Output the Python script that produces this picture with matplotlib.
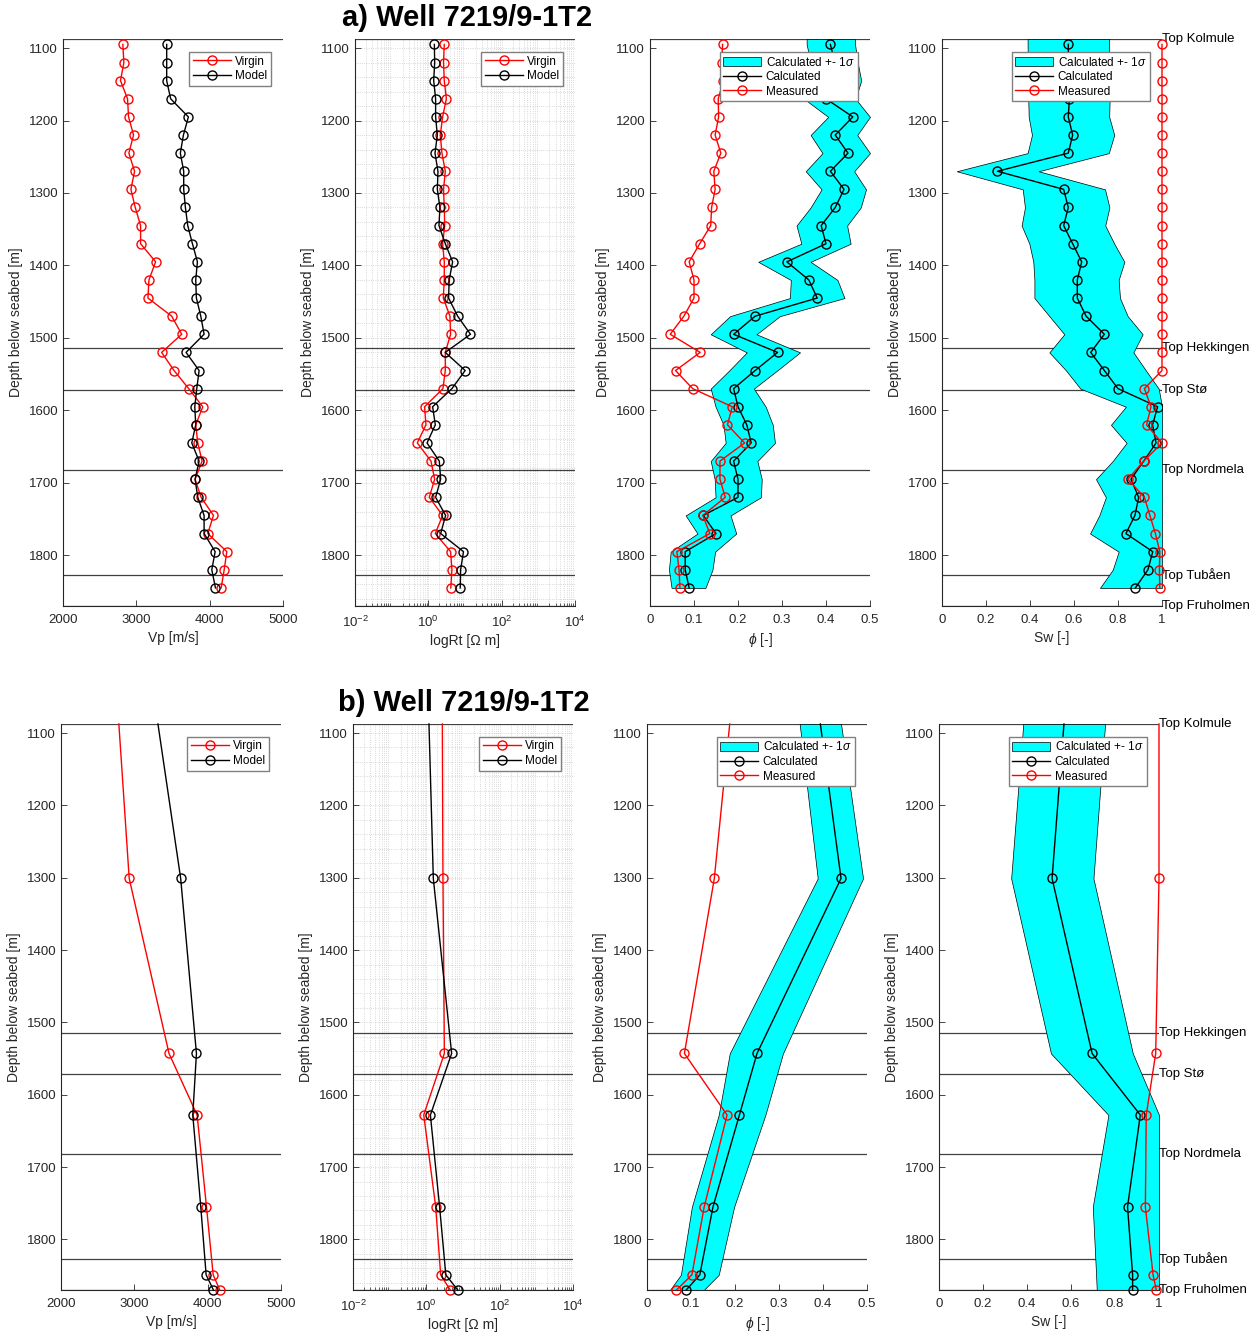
import numpy as np
import matplotlib
matplotlib.use('Agg')
import matplotlib.pyplot as plt
from matplotlib.ticker import MultipleLocator, FuncFormatter, LogLocator, NullFormatter

plt.rcParams['font.family'] = ['Liberation Sans', 'DejaVu Sans']
plt.rcParams['mathtext.fontset'] = 'custom'
plt.rcParams['mathtext.rm'] = 'Liberation Sans'
plt.rcParams['mathtext.it'] = 'Liberation Sans:italic'

# formation tops [m]
tops = ['Top Kolmule', 'Top Hekkingen', 'Top Stø', 'Top Nordmela', 'Top Tubåen', 'Top Fruholmen']
top_depth = [1087.5, 1514, 1572, 1682, 1827, 1870]

# ---- a) dense sampling ----
depth_a = [1095, 1120, 1145, 1170, 1195, 1220, 1245, 1270, 1295, 1320, 1345, 1370, 1395, 1420,
           1445, 1470, 1495, 1520, 1545, 1570, 1595, 1620, 1645, 1670, 1695, 1720, 1745, 1770,
           1795, 1820, 1845]
vp_virgin_a = [2816, 2830, 2784, 2880, 2894, 2962, 2898, 2976, 2926, 2985, 3058, 3058, 3263, 3172,
               3158, 3482, 3619, 3345, 3514, 3714, 3906, 3810, 3838, 3897, 3801, 3883, 4052, 3974,
               4234, 4198, 4157]
vp_model_a = [3414, 3414, 3414, 3468, 3710, 3642, 3600, 3646, 3646, 3669, 3701, 3765, 3833, 3810,
              3819, 3879, 3924, 3678, 3856, 3824, 3797, 3810, 3756, 3856, 3801, 3838, 3924, 3924,
              4075, 4029, 4079]
rt_virgin_a = [2.72, 2.6, 2.72, 3.1, 2.45, 2.12, 2.35, 2.9, 2.6, 2.72, 2.8, 2.45, 2.72, 2.72,
               2.56, 3.88, 4.05, 2.9, 2.9, 2.5, 0.79, 0.86, 0.5, 1.18, 1.49, 1.06, 2.45, 1.55,
               4.05, 4.4, 4.1]
rt_model_a = [1.46, 1.49, 1.4, 1.58, 1.58, 1.76, 1.52, 1.83, 1.76, 2.07, 1.95, 2.9, 4.6, 3.7,
              3.57, 6.3, 14.1, 2.9, 10.1, 4.4, 1.31, 1.55, 0.92, 1.99, 2.17, 1.58, 2.96, 2.17,
              9.1, 7.6, 7.4]
phi_meas_a = [0.165, 0.163, 0.167, 0.155, 0.156, 0.148, 0.161, 0.145, 0.148, 0.140, 0.138, 0.113,
              0.089, 0.100, 0.100, 0.077, 0.046, 0.114, 0.058, 0.097, 0.187, 0.176, 0.215, 0.159,
              0.159, 0.171, 0.120, 0.136, 0.061, 0.066, 0.068]
phi_calc_a = [0.410, 0.420, 0.430, 0.400, 0.461, 0.421, 0.450, 0.410, 0.441, 0.421, 0.389, 0.400,
              0.311, 0.361, 0.380, 0.239, 0.190, 0.290, 0.239, 0.190, 0.200, 0.220, 0.230, 0.190,
              0.200, 0.200, 0.121, 0.150, 0.080, 0.080, 0.089]
# band depths start at the top of the plot
band_depth_a = [1087.5] + depth_a
phi_lo_a = [0.356, 0.356, 0.365, 0.375, 0.350, 0.405, 0.365, 0.392, 0.354, 0.390, 0.365, 0.333, 0.344,
            0.246, 0.320, 0.318, 0.182, 0.138, 0.220, 0.180, 0.138, 0.149, 0.167, 0.172, 0.138,
            0.147, 0.149, 0.081, 0.108, 0.047, 0.043, 0.049]
phi_hi_a = [0.466, 0.466, 0.472, 0.480, 0.467, 0.500, 0.471, 0.500, 0.464, 0.491, 0.479, 0.448, 0.456,
            0.365, 0.426, 0.442, 0.295, 0.242, 0.341, 0.289, 0.236, 0.263, 0.279, 0.284, 0.244,
            0.254, 0.252, 0.183, 0.196, 0.148, 0.142, 0.126]
sw_meas_a = [1.0, 1.0, 1.0, 1.0, 1.0, 1.0, 1.0, 1.0, 1.0, 1.0, 1.0, 1.0, 1.0, 1.0,
             1.0, 1.0, 1.0, 1.0, 1.0, 0.92, 0.95, 0.93, 1.0, 0.917, 0.845, 0.92, 0.945, 0.97,
             0.99, 0.988, 0.99]
sw_calc_a = [0.574, 0.575, 0.576, 0.579, 0.574, 0.594, 0.574, 0.252, 0.553, 0.574, 0.553, 0.594,
             0.635, 0.615, 0.615, 0.655, 0.738, 0.676, 0.738, 0.800, 0.980, 0.957, 0.973, 0.917,
             0.859, 0.894, 0.877, 0.836, 0.958, 0.936, 0.879]
sw_lo_a = [0.389, 0.389, 0.39, 0.39, 0.392, 0.394, 0.409, 0.389, 0.067, 0.367, 0.377, 0.362, 0.397,
           0.415, 0.420, 0.420, 0.488, 0.556, 0.488, 0.564, 0.629, 0.836, 0.768, 0.839, 0.776,
           0.700, 0.745, 0.715, 0.673, 0.803, 0.776, 0.718]
sw_hi_a = [0.760, 0.760, 0.76, 0.76, 0.762, 0.760, 0.783, 0.758, 0.439, 0.741, 0.761, 0.742, 0.783,
           0.829, 0.803, 0.809, 0.844, 0.912, 0.870, 0.927, 0.985, 1.0, 1.0, 1.0, 1.0,
           1.0, 1.0, 1.0, 1.0, 1.0, 1.0, 1.0]

# ---- b) coarse sampling (first value sits at the top of the plot, no marker) ----
depth_b = [1087.5, 1301, 1543, 1628, 1755, 1849, 1870]
vp_virgin_b = [2789, 2930, 3473, 3856, 3984, 4075, 4166]
vp_model_b = [3322, 3632, 3847, 3797, 3906, 3979, 4079]
rt_virgin_b = [2.73, 2.84, 3.1, 0.85, 1.8, 2.46, 4.5]
rt_model_b = [1.18, 1.55, 4.9, 1.29, 2.3, 3.4, 7.2]
phi_meas_b = [0.188, 0.153, 0.085, 0.182, 0.130, 0.102, 0.067]
phi_calc_b = [0.394, 0.441, 0.250, 0.210, 0.150, 0.120, 0.089]
phi_lo_b = [0.347, 0.388, 0.188, 0.163, 0.102, 0.077, 0.052]
phi_hi_b = [0.441, 0.491, 0.309, 0.269, 0.198, 0.163, 0.129]
sw_meas_b = [1.0, 1.0, 0.985, 0.942, 0.938, 0.973, 0.988]
sw_calc_b = [0.568, 0.514, 0.696, 0.915, 0.857, 0.880, 0.880]
sw_lo_b = [0.383, 0.328, 0.509, 0.770, 0.699, 0.714, 0.717]
sw_hi_b = [0.755, 0.702, 0.881, 1.0, 1.0, 1.0, 1.0]

W, H = 1257, 1336
fig = plt.figure(figsize=(W / 100, H / 100), dpi=100)

axc = '0.15'
ms = 6.5
tickfs = 9.5


def setup(ax, xlab):
    ax.set_ylim(1870, 1087.5)
    ax.yaxis.set_major_locator(MultipleLocator(100))
    for s in ['top', 'right']:
        ax.spines[s].set_visible(False)
    for s in ['left', 'bottom']:
        ax.spines[s].set_color(axc)
        ax.spines[s].set_linewidth(0.8)
    ax.tick_params(direction='in', colors=axc, labelsize=tickfs, length=4, width=0.6)
    ax.tick_params(axis='x', pad=6)
    ax.set_xlabel(xlab, fontsize=10, color=axc, labelpad=3)
    ax.set_ylabel('Depth below seabed [m]', fontsize=10, color=axc, labelpad=4)
    for d in top_depth:
        ax.axhline(d, color='0.25', lw=0.9, zorder=1)


def leg(ax):
    ax.legend(loc='upper right', bbox_to_anchor=(1 - 12 / 220, 1 - 13 / 567), borderaxespad=0,
              fontsize=8.5, frameon=True, fancybox=False, edgecolor='0.5', framealpha=1,
              handlelength=3.2, numpoints=1, borderpad=0.3, labelspacing=0.22, handletextpad=0.4,
              handleheight=0.9)


fmt = FuncFormatter(lambda v, p: '%g' % v)
rows = [(0.5464, 0.4244, [63, 355, 650, 942], depth_a, band_depth_a, None),
        (0.0344, 0.4237, [61, 353, 647, 939], depth_b, depth_b, list(range(1, len(depth_b))))]
data = [(vp_virgin_a, vp_model_a, rt_virgin_a, rt_model_a, phi_meas_a, phi_calc_a, phi_lo_a, phi_hi_a,
         sw_meas_a, sw_calc_a, sw_lo_a, sw_hi_a),
        (vp_virgin_b, vp_model_b, rt_virgin_b, rt_model_b, phi_meas_b, phi_calc_b, phi_lo_b, phi_hi_b,
         sw_meas_b, sw_calc_b, sw_lo_b, sw_hi_b)]

for (bot, hgt, lefts, dep, bdep, mev), (vv, vm, rv, rm, pm, pc, pl, ph, sm, sc, sl, sh) in zip(rows, data):
    clip = mev is None
    # Vp
    ax = fig.add_axes([lefts[0] / W, bot, 220 / W, hgt])
    ax.plot(vv, dep, '-o', color='red', mfc='none', ms=ms, lw=1, markevery=mev, label='Virgin', clip_on=clip, zorder=3)
    ax.plot(vm, dep, '-o', color='black', mfc='none', ms=ms, lw=1, markevery=mev, label='Model', clip_on=clip, zorder=3)
    ax.set_xlim(2000, 5000)
    ax.xaxis.set_major_locator(MultipleLocator(1000))
    setup(ax, 'Vp [m/s]')
    leg(ax)

    # resistivity
    ax = fig.add_axes([lefts[1] / W, bot, 220 / W, hgt])
    ax.plot(rv, dep, '-o', color='red', mfc='none', ms=ms, lw=1, markevery=mev, label='Virgin', clip_on=clip, zorder=3)
    ax.plot(rm, dep, '-o', color='black', mfc='none', ms=ms, lw=1, markevery=mev, label='Model', clip_on=clip, zorder=3)
    ax.set_xscale('log')
    ax.set_xlim(1e-2, 1e4)
    ax.set_xticks([1e-2, 1e0, 1e2, 1e4])
    ax.xaxis.set_minor_locator(LogLocator(base=10, subs=np.arange(2, 10), numticks=20))
    ax.xaxis.set_minor_formatter(NullFormatter())
    ax.yaxis.set_minor_locator(MultipleLocator(20))
    ax.grid(True, which='both', linestyle=':', color='0.8', linewidth=0.6, zorder=0)
    ax.set_axisbelow(True)
    setup(ax, 'logRt [Ω m]')
    ax.tick_params(which='minor', direction='in', colors=axc, length=2, width=0.5)
    ax.tick_params(axis='y', which='minor', length=0)
    ax.axvline(1e4, color='0.8', lw=0.6, ls=':')
    leg(ax)

    # porosity
    ax = fig.add_axes([lefts[2] / W, bot, 220 / W, hgt])
    ax.fill_betweenx(bdep, pl, ph, facecolor='#00ffff', edgecolor='black', lw=0.5,
                     label='Calculated +- 1$\\sigma$', zorder=2)
    ax.plot(pc, dep, '-o', color='black', mfc='none', ms=ms, lw=1, markevery=mev, label='Calculated', clip_on=clip, zorder=3)
    ax.plot(pm, dep, '-o', color='red', mfc='none', ms=ms, lw=1, markevery=mev, label='Measured', clip_on=clip, zorder=3)
    ax.set_xlim(0, 0.5)
    ax.xaxis.set_major_locator(MultipleLocator(0.1))
    ax.xaxis.set_major_formatter(fmt)
    setup(ax, '$\\phi$ [-]')
    leg(ax)

    # saturation
    ax = fig.add_axes([lefts[3] / W, bot, 220 / W, hgt])
    ax.fill_betweenx(bdep, sl, sh, facecolor='#00ffff', edgecolor='black', lw=0.5,
                     label='Calculated +- 1$\\sigma$', zorder=2)
    ax.plot(sc, dep, '-o', color='black', mfc='none', ms=ms, lw=1, markevery=mev, label='Calculated', clip_on=clip, zorder=3)
    ax.plot(sm, dep, '-o', color='red', mfc='none', ms=ms, lw=1, markevery=mev, label='Measured', clip_on=False, zorder=4)
    ax.set_xlim(0, 1)
    ax.xaxis.set_major_locator(MultipleLocator(0.2))
    ax.xaxis.set_major_formatter(fmt)
    setup(ax, 'Sw [-]')
    for name, d in zip(tops, top_depth):
        ax.text(1.0, d, name, ha='left', va='center', fontsize=9.5, color='black', clip_on=False)
    leg(ax)

fig.text(467 / W, 1 - 18 / H, 'a) Well 7219/9-1T2', ha='center', va='center', fontsize=21, fontweight='bold')
fig.text(464 / W, 1 - 703 / H, 'b) Well 7219/9-1T2', ha='center', va='center', fontsize=21, fontweight='bold')

fig.savefig('out.png', dpi=100)
